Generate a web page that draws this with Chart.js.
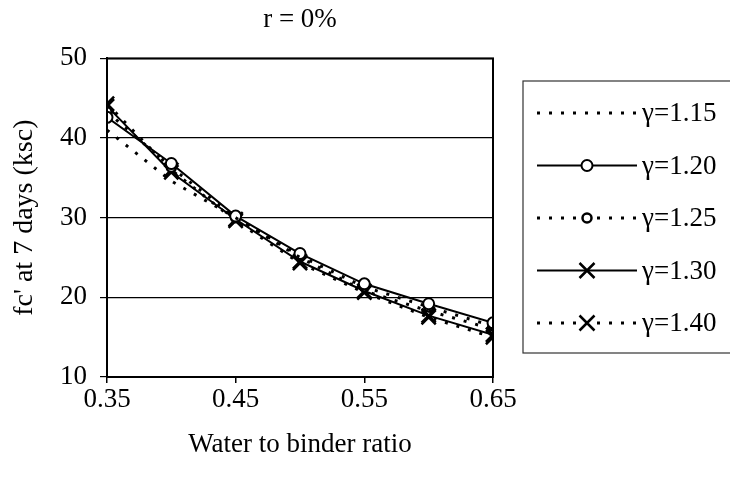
<!DOCTYPE html>
<html>
<head>
<meta charset="utf-8">
<script src="https://cdn.jsdelivr.net/npm/chart.js@4.4.1/dist/chart.umd.min.js"></script>
<style>
  html, body { margin: 0; padding: 0; background: #fff; }
  #wrap { width: 730px; height: 483px; }
</style>
</head>
<body>
<div id="wrap"><canvas id="chart" width="730" height="483"></canvas></div>
<script>
// water to binder ratio
const ratios = [0.35, 0.40, 0.45, 0.50, 0.55, 0.60, 0.65];
// fc' at 7 days (ksc), one array per gamma
const g115 = [41.0, 34.6, 30.0, 25.0, 20.8, 18.3, 16.0];
const g120 = [42.6, 36.8, 30.2, 25.5, 21.7, 19.2, 16.8];
const g125 = [43.3, 36.3, 30.0, 25.2, 21.3, 18.8, 16.4];
const g130 = [44.0, 35.7, 29.8, 24.5, 20.8, 17.7, 15.3];
const g140 = [44.3, 36.0, 29.6, 24.3, 20.6, 17.5, 15.0];
const seriesLabels = ['γ=1.15', 'γ=1.20', 'γ=1.25', 'γ=1.30', 'γ=1.40'];
const xTicks = [0.35, 0.45, 0.55, 0.65];
const yTicks = [10, 20, 30, 40, 50];

const FONT = "'Liberation Serif', 'Times New Roman', serif";
const DOT = [3, 9];

const pts = vals => vals.map((v, i) => ({ x: ratios[i], y: v }));

// legend with a box, drawn from the datasets
const boxLegend = {
  id: 'boxLegend',
  afterDraw(chart) {
    const ctx = chart.ctx;
    const x0 = 523, y0 = 81, w = 240, h = 272;
    ctx.save();
    ctx.strokeStyle = '#333';
    ctx.lineWidth = 1.2;
    ctx.strokeRect(x0, y0, w, h);
    ctx.font = '27px ' + FONT;
    ctx.fillStyle = '#000';
    ctx.textBaseline = 'middle';
    chart.data.datasets.forEach((ds, i) => {
      const y = 113 + i * 52.5;
      ctx.strokeStyle = '#000';
      ctx.lineWidth = ds.borderWidth;
      ctx.setLineDash(ds.borderDash || []);
      ctx.beginPath();
      ctx.moveTo(537, y);
      ctx.lineTo(637, y);
      ctx.stroke();
      ctx.setLineDash([]);
      if (ds.pointRadius > 0) {
        ctx.lineWidth = ds.pointBorderWidth;
        if (ds.pointStyle === 'circle') {
          ctx.fillStyle = '#fff';
          ctx.beginPath();
          ctx.arc(587, y, ds.pointRadius, 0, Math.PI * 2);
          ctx.fill();
          ctx.stroke();
        } else {
          const r = ds.pointRadius * 0.75;
          ctx.beginPath();
          ctx.moveTo(587 - r, y - r); ctx.lineTo(587 + r, y + r);
          ctx.moveTo(587 + r, y - r); ctx.lineTo(587 - r, y + r);
          ctx.stroke();
        }
      }
      ctx.fillStyle = '#000';
      ctx.fillText(ds.label, 642, y + 1);
    });
    ctx.restore();
  }
};

// black frame round the plot area
const frame = {
  id: 'frame',
  afterDraw(chart) {
    const a = chart.chartArea, ctx = chart.ctx;
    ctx.save();
    ctx.strokeStyle = '#000';
    ctx.lineWidth = 2;
    ctx.strokeRect(a.left, a.top, a.right - a.left, a.bottom - a.top);
    ctx.restore();
  }
};

const white = { id: 'white', beforeDraw(chart) {
  const ctx = chart.ctx;
  ctx.save(); ctx.fillStyle = '#fff'; ctx.fillRect(0, 0, chart.width, chart.height); ctx.restore();
}};

const chart = new Chart(document.getElementById('chart'), {
  type: 'line',
  data: {
    datasets: [
      { label: seriesLabels[0], data: pts(g115), borderColor: '#000', borderWidth: 3, borderDash: DOT,
        pointRadius: 0 },
      { label: seriesLabels[1], data: pts(g120), borderColor: '#000', borderWidth: 2,
        pointStyle: 'circle', pointRadius: 5.5, pointBorderWidth: 2, pointBackgroundColor: '#fff', pointBorderColor: '#000' },
      { label: seriesLabels[2], data: pts(g125), borderColor: '#000', borderWidth: 3, borderDash: DOT,
        pointStyle: 'circle', pointRadius: 4.5, pointBorderWidth: 2.5, pointBackgroundColor: '#fff', pointBorderColor: '#000' },
      { label: seriesLabels[3], data: pts(g130), borderColor: '#000', borderWidth: 2,
        pointStyle: 'crossRot', pointRadius: 10, pointBorderWidth: 2.5, pointBorderColor: '#000' },
      { label: seriesLabels[4], data: pts(g140), borderColor: '#000', borderWidth: 3, borderDash: DOT,
        pointStyle: 'crossRot', pointRadius: 10, pointBorderWidth: 2.5, pointBorderColor: '#000' }
    ]
  },
  options: {
    responsive: false,
    animation: false,
    layout: { padding: { left: 0, top: 0, right: 237, bottom: 0 } },
    plugins: {
      legend: { display: false },
      tooltip: { enabled: false },
      title: {
        display: true,
        text: 'r = 0%',
        fullSize: false,
        color: '#000',
        font: { family: FONT, size: 27, weight: 'normal' },
        padding: { top: 4, bottom: 22 }
      }
    },
    scales: {
      x: {
        type: 'linear',
        min: 0.35, max: 0.65,
        afterBuildTicks: s => { s.ticks = xTicks.map(v => ({ value: v })); },
        afterFit: s => { s.height = 106; },
        border: { display: true, color: '#000', width: 2 },
        grid: { drawOnChartArea: false, drawTicks: true, tickLength: 6, color: '#000', lineWidth: 1.5 },
        ticks: { color: '#000', padding: 1, maxRotation: 0, font: { family: FONT, size: 27 },
                 callback: v => Number(v).toFixed(2) },
        title: { display: true, text: 'Water to binder ratio', color: '#000',
                 font: { family: FONT, size: 27 }, padding: { top: 0, bottom: 22 } }
      },
      y: {
        min: 10, max: 50,
        afterBuildTicks: s => { s.ticks = yTicks.map(v => ({ value: v })); },
        afterFit: s => { s.width = 107; },
        border: { display: true, color: '#000', width: 2 },
        grid: { color: '#000', lineWidth: 1.2, tickLength: 7 },
        ticks: { color: '#000', padding: 13, font: { family: FONT, size: 27 } },
        title: { display: true, text: "fc' at 7 days (ksc)", color: '#000',
                 font: { family: FONT, size: 28 }, padding: { top: 8, bottom: 0 } }
      }
    }
  },
  plugins: [white, frame, boxLegend]
});
</script>
</body>
</html>
